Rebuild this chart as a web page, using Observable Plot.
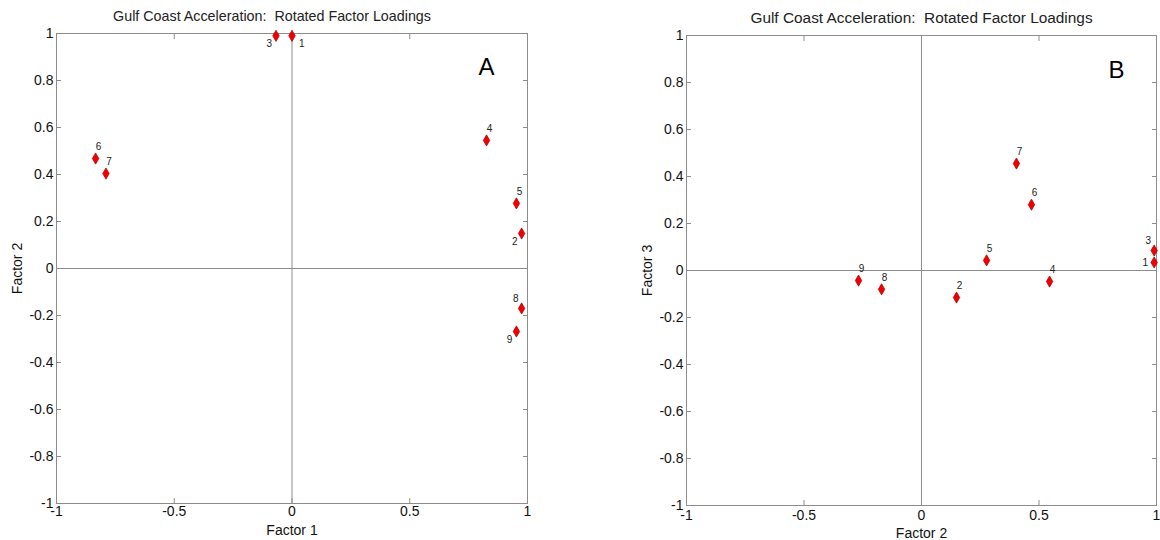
<!DOCTYPE html>
<html>
<head>
<meta charset="utf-8">
<script src="https://cdn.jsdelivr.net/npm/d3@7"></script>
<script src="https://cdn.jsdelivr.net/npm/@observablehq/plot@0.6"></script>
<style>
  html, body { margin: 0; padding: 0; background: #fff; }
  #wrap { position: relative; width: 1160px; height: 540px; font-family: "Liberation Sans", Arial, sans-serif; }
  #wrap svg { position: absolute; top: 0; overflow: visible; }
</style>
</head>
<body>
<div id="wrap"></div>
<script>
// ---- data ----
const title = "Gulf Coast Acceleration:  Rotated Factor Loadings";
const variables = ["1", "2", "3", "4", "5", "6", "7", "8", "9"];
const factor1 = [0.00, 0.975, -0.068, 0.826, 0.953, -0.834, -0.79, 0.975, 0.953];
const factor2 = [0.99, 0.149, 0.99, 0.545, 0.277, 0.468, 0.404, -0.17, -0.268];
const factor3 = [0.034, -0.115, 0.085, -0.047, 0.043, 0.28, 0.455, -0.08, -0.043];
// label placement relative to each point (compass direction)
const labelDirA = ["se", "sw", "sw", "n", "n", "n", "n", "nw", "sw"];
const labelDirB = ["w", "n", "nw", "n", "n", "n", "n", "n", "n"];
const xTicks = [-1, -0.5, 0, 0.5, 1];
const yTicks = [-1, -0.8, -0.6, -0.4, -0.2, 0, 0.2, 0.4, 0.6, 0.8, 1];
const xTickLabels = ["-1", "-0.5", "0", "0.5", "1"];
const yTickLabels = ["-1", "-0.8", "-0.6", "-0.4", "-0.2", "0", "0.2", "0.4", "0.6", "0.8", "1"];

const offsets = {
  n:  {dx: 3,  dy: -12, textAnchor: "middle"},
  se: {dx: 7,  dy: 8,   textAnchor: "start"},
  sw: {dx: -4, dy: 8,   textAnchor: "end"},
  nw: {dx: -3, dy: -10, textAnchor: "end"},
  w:  {dx: -6, dy: 0,   textAnchor: "end"}
};

const gray = "#8c8c8c";
const xFmt = d => xTickLabels[xTicks.indexOf(d)];
const yFmt = d => yTickLabels[yTicks.indexOf(d)];

function panel({xs, ys, dirs, xLabel, yLabel, letter, width, margins, titleSize, titleDx, letterPos, xTickPad, xLabelOffset}) {
  const data = variables.map((v, i) => ({v, x: xs[i], y: ys[i], dir: dirs[i]}));
  const textMarks = Object.keys(offsets).map(k =>
    Plot.text(data.filter(d => d.dir === k), {
      x: "x", y: "y", text: "v", fontSize: 10, fill: "#222",
      dx: offsets[k].dx, dy: offsets[k].dy, textAnchor: offsets[k].textAnchor
    })
  );
  return Plot.plot({
    width, height: 540,
    marginTop: margins[0], marginRight: margins[1], marginBottom: margins[2], marginLeft: margins[3],
    style: {fontFamily: "Liberation Sans, Arial, sans-serif", fontSize: "14px", color: "#111", background: "transparent"},
    x: {domain: [-1, 1]},
    y: {domain: [-1, 1]},
    marks: [
      Plot.ruleX([0], {stroke: gray, strokeWidth: 1}),
      Plot.ruleY([0], {stroke: gray, strokeWidth: 1}),
      Plot.frame({stroke: gray, strokeWidth: 1}),
      Plot.axisX(xTicks, {anchor: "bottom", tickSize: -5, tickPadding: xTickPad, stroke: gray, tickFormat: xFmt,
        fill: "#111", label: xLabel, labelAnchor: "center", labelArrow: "none", labelOffset: xLabelOffset}),
      Plot.axisX(xTicks, {anchor: "top", tickSize: -5, stroke: gray, tickFormat: () => "", label: null}),
      Plot.axisY(yTicks, {anchor: "left", tickSize: -5, tickPadding: 8, stroke: gray, tickFormat: yFmt,
        fill: "#111", label: yLabel, labelAnchor: "center", labelArrow: "none", labelOffset: 44}),
      Plot.axisY(yTicks, {anchor: "right", tickSize: -5, stroke: gray, tickFormat: () => "", label: null}),
      Plot.dot(data, {x: "x", y: "y", symbol: "diamond", r: 3.4, fill: "#f00000", stroke: "#b00000", strokeWidth: 0.7}),
      ...textMarks,
      Plot.text([title], {frameAnchor: "top", dy: -23, dx: titleDx, fontSize: titleSize, fill: "#222"}),
      Plot.text([letter], {frameAnchor: "top-right", dx: letterPos[0], dy: letterPos[1], fontSize: 24, fill: "#000", textAnchor: "middle"})
    ]
  });
}

const a = panel({
  xs: factor1, ys: factor2, dirs: labelDirA, xLabel: "Factor 1", yLabel: "Factor 2", letter: "A",
  width: 560, margins: [33, 33, 37, 56], titleSize: 14.3, titleDx: -20, letterPos: [-41, 24],
  xTickPad: 8, xLabelOffset: 31
});
const b = panel({
  xs: factor2, ys: factor3, dirs: labelDirB, xLabel: "Factor 2", yLabel: "Factor 3", letter: "B",
  width: 580, margins: [35, 4, 35, 106], titleSize: 15.4, titleDx: 0, letterPos: [-40, 25],
  xTickPad: 10, xLabelOffset: 32
});
a.style.left = "0px";
b.style.left = "580px";
document.getElementById("wrap").append(a, b);
</script>
</body>
</html>
